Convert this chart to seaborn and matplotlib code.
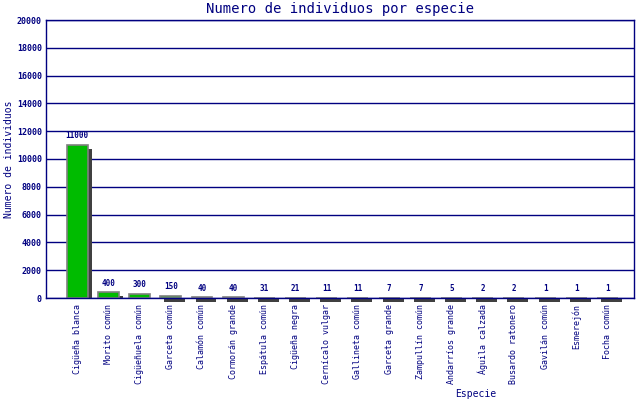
import matplotlib
matplotlib.use("Agg")
import matplotlib.pyplot as plt
import matplotlib.transforms as mtransforms
import seaborn as sns
import pandas as pd

especies = ["Cigüeña blanca", "Morito común", "Cigüeñuela común", "Garceta común",
            "Calamón común", "Cormorán grande", "Espátula común", "Cigüeña negra",
            "Cernícalo vulgar", "Gallineta común", "Garceta grande", "Zampullín común",
            "Andarríos grande", "Águila calzada", "Busardo ratonero", "Gavilán común",
            "Esmerejón", "Focha común"]
individuos = [11000, 400, 300, 150, 40, 40, 31, 21, 11, 11, 7, 7, 5, 2, 2, 1, 1, 1]
yticks = list(range(0, 20001, 2000))

title = "Numero de individuos por especie"
ylabel = "Numero de individuos"
xlabel = "Especie"

NAVY = "#000080"
GREEN = "#00bb00"
SHADOW = "#404040"
MONO = "DejaVu Sans Mono"

df = pd.DataFrame({"especie": especies, "n": individuos})

sns.set_style("white")
plt.rcParams["font.family"] = [MONO]

fig = plt.figure(figsize=(6.4, 4.0), dpi=100)
ax = fig.add_axes([46 / 640, 102 / 400, 588 / 640, 278 / 400])
ax.set_ylim(0, 20000)

# shadow bars
sns.barplot(data=df, x="especie", y="n", order=especies, color=SHADOW,
            saturation=1, width=0.67, linewidth=0, ax=ax, errorbar=None)
ax.set_ylim(0, 20000)
# data units per pixel on the y axis
y0 = ax.transData.inverted().transform((0, 0))[1]
y1 = ax.transData.inverted().transform((0, 1))[1]
k = y1 - y0
depth = 4 * k
off = mtransforms.ScaledTranslation(4 / 100, 0, fig.dpi_scale_trans)
for p in ax.containers[0]:
    h = p.get_height()
    if h - depth > 0:
        p.set_y(0)
        p.set_height(h - depth)
    else:
        p.set_y(-depth)
        p.set_height(depth)
    p.set_transform(ax.transData + off)
    p.set_clip_on(False)

# main bars
sns.barplot(data=df, x="especie", y="n", order=especies, color=GREEN,
            saturation=1, width=0.67, edgecolor="#808080", linewidth=1.2,
            ax=ax, errorbar=None)

ax.bar_label(ax.containers[1], labels=[str(v) for v in individuos],
             padding=3.5, fontsize=5.5, fontweight="bold", color=NAVY,
             family=MONO)

ax.set_ylim(0, 20000)
ax.set_xlim(-1.0, 17.85)
ax.set_yticks(yticks)
ax.set_yticklabels([str(v) for v in yticks], fontsize=6, fontweight="bold",
                   color=NAVY, family=MONO)
ax.set_xticks(range(len(especies)))
ax.set_xticklabels(especies, rotation=90, fontsize=6, color=NAVY, family=MONO)
ax.tick_params(axis="y", length=0, pad=3)
ax.tick_params(axis="x", length=0, pad=4.5)
ax.set_xlabel("")
ax.set_ylabel("")

ax.set_axisbelow(True)
ax.yaxis.grid(True, color=NAVY, linewidth=1)
ax.xaxis.grid(False)
for s in ax.spines.values():
    s.set_visible(True)
    s.set_color(NAVY)
    s.set_linewidth(1)

fig.text(340 / 640, 1 - 9 / 400, title, ha="center", va="center",
         fontsize=10, color=NAVY, family=MONO)
fig.text(9 / 640, 1 - 159 / 400, ylabel, ha="center", va="center",
         rotation=90, fontsize=7, color=NAVY, family=MONO)
fig.text(476 / 640, 1 - 394 / 400, xlabel, ha="center", va="center",
         fontsize=7, color=NAVY, family=MONO)

fig.savefig("out.png", dpi=100)
